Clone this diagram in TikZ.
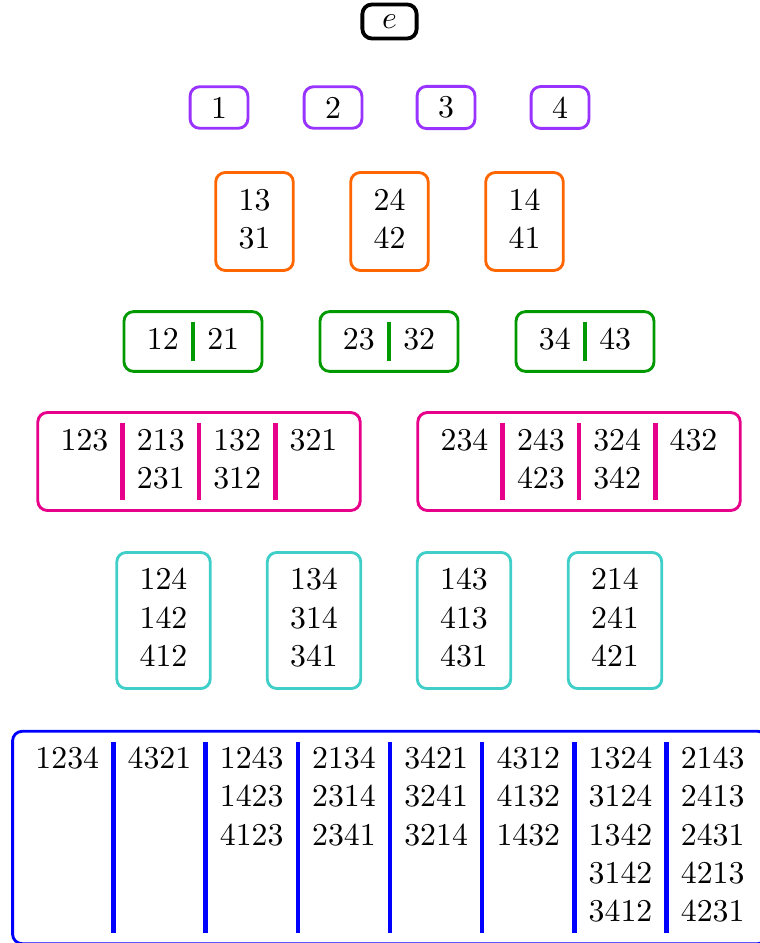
\documentclass[tikz,border=0pt]{standalone}
\usepackage{array}
\definecolor{classBlack}{HTML}{000000}
\definecolor{classPurple}{HTML}{9933FF}
\definecolor{classOrange}{HTML}{FF6600}
\definecolor{classGreen}{HTML}{009900}
\definecolor{classMagenta}{HTML}{E6008A}
\definecolor{classCyan}{HTML}{40CFC8}
\definecolor{classBlue}{HTML}{0000FF}
\newcolumntype{I}[1]{!{\textcolor{#1}{\vrule width 1.4pt}}}
\setlength{\tabcolsep}{3.8pt}

\begin{document}
\begin{tikzpicture}[
    x=0.3145pt,y=-0.3145pt,
    class/.style={draw,rounded corners=3pt,line width=0.9pt,inner sep=3.4pt},
    single/.style={class,inner xsep=6.6pt,inner ysep=3.2pt},
  ]
  \useasboundingbox (0,0) rectangle (759,943);

  % Identity
  \node[single,draw=classBlack,line width=1.2pt,inner xsep=6.2pt] (e) at (389.5,21.5) {$e$};

  % Transpositions of one letter
  \foreach \i/\x in {1/219,2/333,3/446,4/560}
    \node[single,draw=classPurple] (p\i) at (\x,107.5) {\i};

  % Two-letter classes
  \node[class,draw=classOrange] (o13) at (254.5,221.5) {\begin{tabular}{c}13\\31\end{tabular}};
  \node[class,draw=classOrange] (o24) at (389.5,221.5) {\begin{tabular}{c}24\\42\end{tabular}};
  \node[class,draw=classOrange] (o14) at (524.5,221.5) {\begin{tabular}{c}14\\41\end{tabular}};

  \node[class,draw=classGreen] (g12) at (193,341.5) {\begin{tabular}{cI{classGreen}c}12 & 21\end{tabular}};
  \node[class,draw=classGreen] (g23) at (389,341.5) {\begin{tabular}{cI{classGreen}c}23 & 32\end{tabular}};
  \node[class,draw=classGreen] (g34) at (585,341.5) {\begin{tabular}{cI{classGreen}c}34 & 43\end{tabular}};

  % Three-letter classes
  \node[class,draw=classMagenta] (m123) at (199,461.5) {%
    \begin{tabular}{cI{classMagenta}cI{classMagenta}cI{classMagenta}c}
      123 & 213 & 132 & 321\\
          & 231 & 312 &
    \end{tabular}};
  \node[class,draw=classMagenta] (m234) at (579,461.5) {%
    \begin{tabular}{cI{classMagenta}cI{classMagenta}cI{classMagenta}c}
      234 & 243 & 324 & 432\\
          & 423 & 342 &
    \end{tabular}};

  \node[class,draw=classCyan] (c124) at (163.5,620.5) {\begin{tabular}{c}124\\142\\412\end{tabular}};
  \node[class,draw=classCyan] (c134) at (314,620.5) {\begin{tabular}{c}134\\314\\341\end{tabular}};
  \node[class,draw=classCyan] (c143) at (464,620.5) {\begin{tabular}{c}143\\413\\431\end{tabular}};
  \node[class,draw=classCyan] (c214) at (615,620.5) {\begin{tabular}{c}214\\241\\421\end{tabular}};

  % Four-letter classes
  \node[class,draw=classBlue] (b1234) at (390,837.5) {%
    \begin{tabular}{cI{classBlue}cI{classBlue}cI{classBlue}cI{classBlue}cI{classBlue}cI{classBlue}cI{classBlue}c}
      1234 & 4321 & 1243 & 2134 & 3421 & 4312 & 1324 & 2143\\
           &      & 1423 & 2314 & 3241 & 4132 & 3124 & 2413\\
           &      & 4123 & 2341 & 3214 & 1432 & 1342 & 2431\\
           &      &      &      &      &      & 3142 & 4213\\
           &      &      &      &      &      & 3412 & 4231
    \end{tabular}};
\end{tikzpicture}
\end{document}
